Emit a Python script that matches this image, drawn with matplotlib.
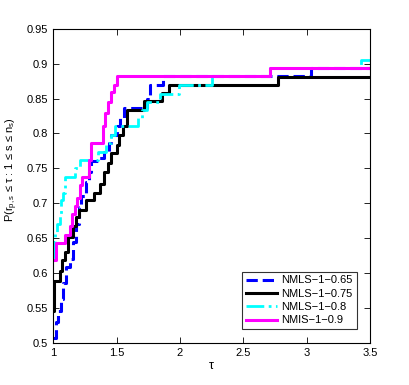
import matplotlib
matplotlib.use("Agg")
import matplotlib.pyplot as plt

plt.rcParams['font.family'] = ['Liberation Sans', 'DejaVu Sans']
plt.rcParams['mathtext.fontset'] = 'custom'
plt.rcParams['mathtext.rm'] = 'Liberation Sans'
plt.rcParams['mathtext.it'] = 'Liberation Sans'

# performance profile steps (tau where the step starts, fraction solved)
tau_065 = [1.00, 1.02, 1.04, 1.06, 1.08, 1.10, 1.13, 1.16, 1.18, 1.20, 1.22, 1.26, 1.28, 1.30,
           1.36, 1.40, 1.44, 1.46, 1.50, 1.53, 1.56, 1.74, 1.76, 1.87, 3.03, 3.50]
p_065 = [0.506, 0.530, 0.546, 0.563, 0.585, 0.608, 0.620, 0.645, 0.670, 0.695, 0.710, 0.730, 0.745, 0.760,
         0.765, 0.774, 0.786, 0.798, 0.810, 0.822, 0.836, 0.850, 0.869, 0.882, 0.894, 0.894]

tau_075 = [1.00, 1.005, 1.01, 1.05, 1.07, 1.09, 1.12, 1.16, 1.18, 1.20, 1.26, 1.32, 1.37, 1.40,
           1.43, 1.46, 1.50, 1.52, 1.55, 1.58, 1.72, 1.86, 1.91, 2.775, 3.50]
p_075 = [0.546, 0.575, 0.589, 0.603, 0.618, 0.630, 0.651, 0.668, 0.680, 0.690, 0.704, 0.714, 0.728, 0.745,
         0.757, 0.772, 0.784, 0.798, 0.810, 0.834, 0.846, 0.858, 0.869, 0.881, 0.881]

tau_08 = [1.00, 1.005, 1.015, 1.03, 1.05, 1.06, 1.08, 1.09, 1.17, 1.21, 1.35, 1.42, 1.46, 1.49,
          1.67, 1.70, 1.74, 1.84, 1.99, 2.25, 2.71, 3.43, 3.50]
p_08 = [0.623, 0.645, 0.657, 0.670, 0.685, 0.704, 0.714, 0.738, 0.750, 0.762, 0.774, 0.786, 0.798, 0.810,
        0.822, 0.834, 0.845, 0.857, 0.869, 0.882, 0.894, 0.906, 0.906]

tau_09 = [1.00, 1.02, 1.09, 1.13, 1.15, 1.17, 1.19, 1.21, 1.225, 1.285, 1.30, 1.395, 1.41, 1.43,
          1.46, 1.48, 1.50, 2.71, 3.50]
p_09 = [0.618, 0.643, 0.655, 0.668, 0.685, 0.696, 0.708, 0.726, 0.738, 0.762, 0.786, 0.810, 0.830, 0.845,
        0.860, 0.870, 0.882, 0.894, 0.894]

labels = ['NMLS\u22121\u22120.65', 'NMLS\u22121\u22120.75', 'NMLS\u22121\u22120.8', 'NMIS\u22121\u22120.9']
xticks = [1, 1.5, 2, 2.5, 3, 3.5]
xticklabels = ['1', '1.5', '2', '2.5', '3', '3.5']
yticks = [0.5, 0.55, 0.6, 0.65, 0.7, 0.75, 0.8, 0.85, 0.9, 0.95]
yticklabels = ['0.5', '0.55', '0.6', '0.65', '0.7', '0.75', '0.8', '0.85', '0.9', '0.95']

fig = plt.figure(figsize=(4.09, 3.85), dpi=100)
ax = fig.add_axes([0.13, 0.11, 0.775, 0.815])

ax.step(tau_065, p_065, where='post', color='blue', ls='--', lw=2.2, label=labels[0])
ax.step(tau_075, p_075, where='post', color='black', ls='-', lw=2.2, label=labels[1])
ax.step(tau_08, p_08, where='post', color='cyan', ls='-.', lw=2.0, label=labels[2])
ax.step(tau_09, p_09, where='post', color='magenta', ls='-', lw=2.2, label=labels[3])

ax.set_xlim(1, 3.5)
ax.set_ylim(0.5, 0.95)
ax.set_xticks(xticks)
ax.set_xticklabels(xticklabels)
ax.set_yticks(yticks)
ax.set_yticklabels(yticklabels)
ax.tick_params(direction='in', top=True, right=True, labelsize=8, length=4, width=0.6)
for s in ax.spines.values():
    s.set_linewidth(0.8)

ax.set_xlabel('\u03c4', fontsize=9, labelpad=2)
ax.set_ylabel('P(r$_{p,s}$ \u2264 \u03c4 : 1 \u2264 s \u2264 n$_s$)', fontsize=8)
ax.yaxis.set_label_coords(-0.105, 0.55)

leg = ax.legend(loc='lower right', fontsize=8, fancybox=False, edgecolor='black',
                handlelength=2.8, borderpad=0.35, labelspacing=0.3, handletextpad=0.4,
                borderaxespad=1.2)
leg.get_frame().set_linewidth(0.8)

fig.savefig('out.png', dpi=100)
